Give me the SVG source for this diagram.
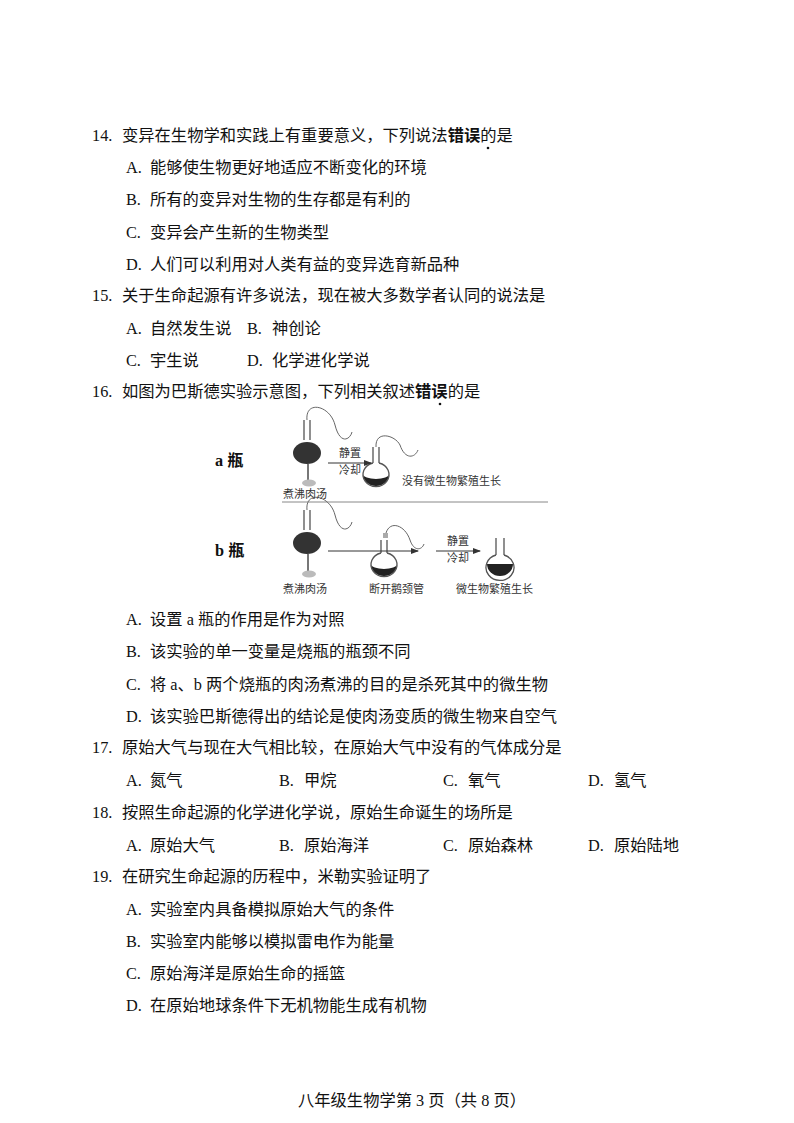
<svg xmlns="http://www.w3.org/2000/svg" width="794" height="1123" viewBox="0 0 794 1123">
<style>
text{font-family:"Liberation Serif","Noto Sans CJK SC",serif;font-size:16.3px;fill:#111}
.s{font-size:11px;fill:#333}
.f{fill:none;stroke:#555;stroke-width:1.3}
.tube{fill:none;stroke:#666;stroke-width:1}
</style>
<defs><marker id="ar" markerWidth="8" markerHeight="6" refX="7" refY="3" orient="auto"><path d="M0,0 L8,3 L0,6 z" fill="#333"/></marker></defs>
<rect width="794" height="1123" fill="#fff"/>
<g id="text">
<text x="92" y="141">14.</text><text x="122" y="141">变异在生物学和实践上有重要意义，下列说法<tspan font-weight="bold">错误</tspan>的是</text>
<circle cx="488" cy="148" r="1.3" fill="#111"/>
<text x="126" y="173">A.</text><text x="150" y="173">能够使生物更好地适应不断变化的环境</text>
<text x="126" y="205">B.</text><text x="150" y="205">所有的变异对生物的生存都是有利的</text>
<text x="126" y="238">C.</text><text x="150" y="238">变异会产生新的生物类型</text>
<text x="126" y="270">D.</text><text x="150" y="270">人们可以利用对人类有益的变异选育新品种</text>
<text x="92" y="301">15.</text><text x="122" y="301">关于生命起源有许多说法，现在被大多数学者认同的说法是</text>
<text x="126" y="334">A.</text><text x="150" y="334">自然发生说</text><text x="247" y="334">B.</text><text x="272" y="334">神创论</text>
<text x="126" y="366">C.</text><text x="150" y="366">宇生说</text><text x="247" y="366">D.</text><text x="272" y="366">化学进化学说</text>
<text x="92" y="397">16.</text><text x="122" y="397">如图为巴斯德实验示意图，下列相关叙述<tspan font-weight="bold">错误</tspan>的是</text>
<circle cx="440" cy="404" r="1.3" fill="#111"/>
<text x="126" y="625">A.</text><text x="150" y="625">设置 a 瓶的作用是作为对照</text>
<text x="126" y="657">B.</text><text x="150" y="657">该实验的单一变量是烧瓶的瓶颈不同</text>
<text x="126" y="690">C.</text><text x="150" y="690">将 a、b 两个烧瓶的肉汤煮沸的目的是杀死其中的微生物</text>
<text x="126" y="722">D.</text><text x="150" y="722">该实验巴斯德得出的结论是使肉汤变质的微生物来自空气</text>
<text x="92" y="753">17.</text><text x="122" y="753">原始大气与现在大气相比较，在原始大气中没有的气体成分是</text>
<text x="126" y="786">A.</text><text x="150" y="786">氮气</text><text x="279" y="786">B.</text><text x="304" y="786">甲烷</text><text x="443" y="786">C.</text><text x="468" y="786">氧气</text><text x="588" y="786">D.</text><text x="614" y="786">氢气</text>
<text x="92" y="818">18.</text><text x="122" y="818">按照生命起源的化学进化学说，原始生命诞生的场所是</text>
<text x="126" y="851">A.</text><text x="150" y="851">原始大气</text><text x="279" y="851">B.</text><text x="304" y="851">原始海洋</text><text x="443" y="851">C.</text><text x="468" y="851">原始森林</text><text x="588" y="851">D.</text><text x="614" y="851">原始陆地</text>
<text x="92" y="882">19.</text><text x="122" y="882">在研究生命起源的历程中，米勒实验证明了</text>
<text x="126" y="915">A.</text><text x="150" y="915">实验室内具备模拟原始大气的条件</text>
<text x="126" y="947">B.</text><text x="150" y="947">实验室内能够以模拟雷电作为能量</text>
<text x="126" y="979">C.</text><text x="150" y="979">原始海洋是原始生命的摇篮</text>
<text x="126" y="1011">D.</text><text x="150" y="1011">在原始地球条件下无机物能生成有机物</text>
<text x="298" y="1106">八年级生物学第 3 页（共 8 页）</text>
</g>
<g id="figure">
<text x="215" y="466" font-weight="bold" font-size="17">a 瓶</text>
<text x="215" y="556" font-weight="bold" font-size="17">b 瓶</text>
<line x1="282" y1="502" x2="548" y2="502" stroke="#888" stroke-width="1"/>
<g id="a1">
<path class="f" d="M304,420 V440 M310,420 V440"/>
<path class="tube" d="M307,420 C305,400 330,405 335,425 C340,445 350,440 352,432"/>
<ellipse cx="307" cy="453" rx="14" ry="11" fill="#333"/>
<line x1="308" y1="464" x2="308" y2="481" stroke="#777" stroke-width="2"/>
<ellipse cx="309" cy="483" rx="7" ry="3.5" fill="#bbb"/>
</g>
<g id="a2">
<path class="f" d="M373,447 V463 M379,447 V463"/>
<path class="tube" d="M376,447 C375,430 395,435 400,445 C405,460 415,458 418,450"/>
<path d="M363,474 A13,12 0 1 0 389,474 A13,5 0 0 1 363,474 z" fill="#222"/>
<path class="f" d="M373,463 A13,12 0 1 0 379,463"/>
</g>
<g id="b1">
<path class="f" d="M304,510 V530 M310,510 V530"/>
<path class="tube" d="M307,510 C305,490 330,495 335,515 C340,535 350,530 352,522"/>
<ellipse cx="307" cy="543" rx="14" ry="11" fill="#333"/>
<line x1="308" y1="554" x2="308" y2="572" stroke="#777" stroke-width="2"/>
<ellipse cx="309" cy="574" rx="7" ry="3.5" fill="#bbb"/>
</g>
<g id="b2">
<path class="f" d="M381,540 V553 M387,540 V553"/>
<rect x="383" y="533" width="5" height="5" fill="#aaa"/>
<path class="tube" d="M386,533 C390,520 405,525 410,540 C414,552 422,550 424,544"/>
<path d="M371,564 A13,12 0 1 0 397,564 A13,5 0 0 1 371,564 z" fill="#222"/>
<path class="f" d="M381,553 A13,12 0 1 0 387,553"/>
</g>
<g id="b3">
<path class="f" d="M496,538 V555 M504,538 V555"/>
<path d="M487,564 A13,12 0 0 0 513,564 z" fill="#222"/>
<path class="f" d="M496,555 A14,13 0 1 0 504,555"/>
</g>
<g id="connectors">
<line x1="328" y1="463" x2="371" y2="463" stroke="#333" marker-end="url(#ar)"/>
<line x1="328" y1="551" x2="418" y2="551" stroke="#333" marker-end="url(#ar)"/>
<line x1="436" y1="551" x2="480" y2="551" stroke="#333" marker-end="url(#ar)"/>
</g>
<text class="s" x="339" y="457">静置</text><text class="s" x="339" y="474">冷却</text>
<text class="s" x="447" y="545">静置</text><text class="s" x="447" y="562">冷却</text>
<text class="s" x="402" y="485">没有微生物繁殖生长</text>
<text class="s" x="283" y="498">煮沸肉汤</text>
<text class="s" x="283" y="593">煮沸肉汤</text>
<text class="s" x="369" y="593">断开鹅颈管</text>
<text class="s" x="456" y="593">微生物繁殖生长</text>
</g>
</svg>
